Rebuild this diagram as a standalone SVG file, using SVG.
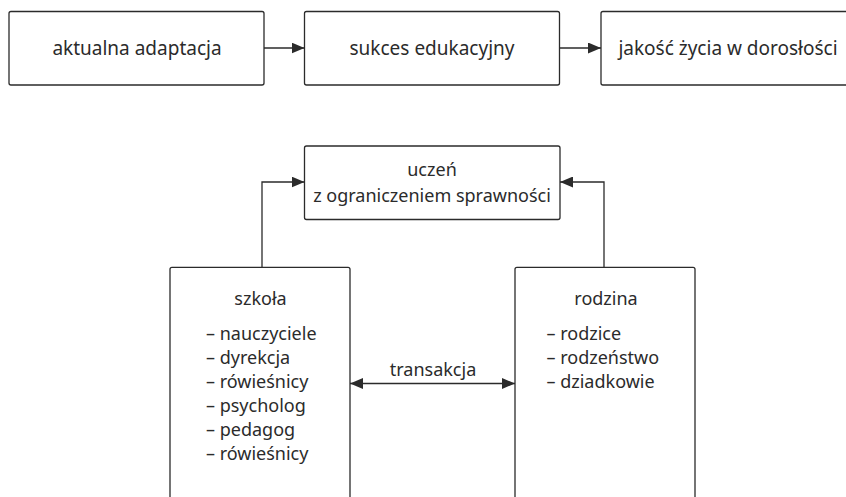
<svg xmlns="http://www.w3.org/2000/svg" width="846" height="497" viewBox="0 0 846 497">
  <style>
    .box { fill: #fff; stroke: #2b2b2b; stroke-width: 1.3; }
    .lbl { font-family: "Noto Sans", "Liberation Sans", sans-serif; font-size: 18px; fill: #2b2b2b; }
    .top { font-size: 19px; }
    .mid { text-anchor: middle; }
    .wire { fill: none; stroke: #2b2b2b; stroke-width: 1.3; }
  </style>
  <defs>
    <marker id="arrow" viewBox="0 0 13 11" refX="13" refY="5.5" markerWidth="13" markerHeight="11" markerUnits="userSpaceOnUse" orient="auto-start-reverse">
      <path d="M0,0 L13,5.5 L0,11 Z" fill="#2b2b2b"/>
    </marker>
  </defs>
  <rect width="846" height="497" fill="#fff"/>

  <g id="aktualna-adaptacja">
    <rect class="box" x="9" y="11.5" width="255" height="73.5" rx="2"/>
    <text class="lbl top mid" x="137" y="55">aktualna adaptacja</text>
  </g>
  <g id="sukces-edukacyjny">
    <rect class="box" x="304.5" y="11.5" width="255" height="73.5" rx="2"/>
    <text class="lbl top mid" x="432" y="55">sukces edukacyjny</text>
  </g>
  <g id="jakosc-zycia">
    <rect class="box" x="601" y="11.5" width="255" height="73.5" rx="2"/>
    <text class="lbl top mid" x="728" y="55">jakość życia w dorosłości</text>
  </g>

  <g id="uczen">
    <rect class="box" x="304.5" y="146" width="255.5" height="73.5" rx="2"/>
    <text class="lbl mid" x="432" y="176">uczeń</text>
    <text class="lbl mid" x="432" y="202">z ograniczeniem sprawności</text>
  </g>

  <g id="szkola">
    <rect class="box" x="170" y="267.3" width="180" height="250" rx="2"/>
    <text class="lbl mid" x="260.5" y="305">szkoła</text>
    <text class="lbl" x="206" y="340">– nauczyciele</text>
    <text class="lbl" x="206" y="364">– dyrekcja</text>
    <text class="lbl" x="206" y="388">– rówieśnicy</text>
    <text class="lbl" x="206" y="412">– psycholog</text>
    <text class="lbl" x="206" y="436">– pedagog</text>
    <text class="lbl" x="206" y="460">– rówieśnicy</text>
  </g>

  <g id="rodzina">
    <rect class="box" x="515" y="267.3" width="180" height="250" rx="2"/>
    <text class="lbl mid" x="606" y="305">rodzina</text>
    <text class="lbl" x="546.5" y="340">– rodzice</text>
    <text class="lbl" x="546.5" y="364">– rodzeństwo</text>
    <text class="lbl" x="546.5" y="388">– dziadkowie</text>
  </g>

  <g id="connectors">
    <line class="wire" x1="264" y1="48" x2="304.5" y2="48" marker-end="url(#arrow)"/>
    <line class="wire" x1="559.5" y1="48" x2="601" y2="48" marker-end="url(#arrow)"/>
    <polyline class="wire" points="262,267.3 262,182 304.5,182" marker-end="url(#arrow)"/>
    <polyline class="wire" points="604,267.3 604,182 560,182" marker-end="url(#arrow)"/>
    <line class="wire" x1="350" y1="383.5" x2="515" y2="383.5" marker-start="url(#arrow)" marker-end="url(#arrow)"/>
    <text class="lbl mid" x="433" y="376">transakcja</text>
  </g>
</svg>
